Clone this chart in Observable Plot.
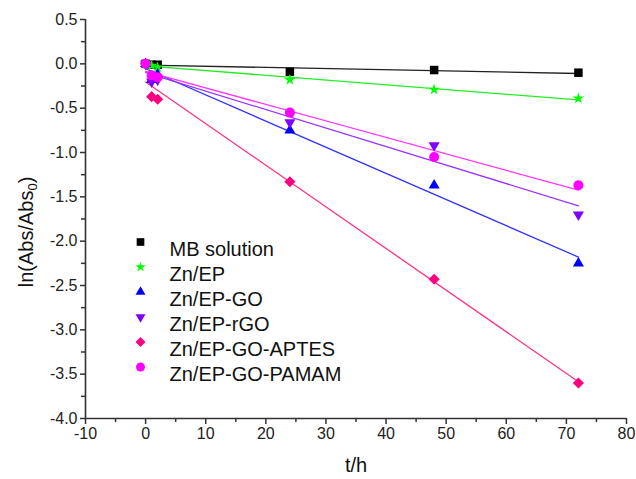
<!DOCTYPE html>
<html>
<head>
<meta charset="utf-8">
<script src="https://cdn.jsdelivr.net/npm/d3@7"></script>
<script src="https://cdn.jsdelivr.net/npm/@observablehq/plot@0.6"></script>
<style>
  html, body { margin: 0; padding: 0; background: #fff; }
  #chart { width: 636px; height: 479px; }
  svg { font-family: "Liberation Sans", Arial, sans-serif; }
</style>
</head>
<body>
<div id="chart"></div>
<script>
// ---- data ----
const times = [0, 1, 2, 24, 48, 72];
const seriesNames = ["MB solution", "Zn/EP", "Zn/EP-GO", "Zn/EP-rGO", "Zn/EP-GO-APTES", "Zn/EP-GO-PAMAM"];
const mbSolution = [0, -0.01, -0.01, -0.09, -0.07, -0.10];
const znEP = [0, -0.02, -0.04, -0.18, -0.29, -0.39];
const znEPGO = [0, -0.18, -0.12, -0.75, -1.37, -2.25];
const znEPrGO = [0, -0.20, -0.18, -0.66, -0.92, -1.70];
const znEPGOAPTES = [0, -0.37, -0.40, -1.33, -2.43, -3.60];
const znEPGOPAMAM = [0, -0.13, -0.15, -0.55, -1.05, -1.37];
const xTicks = [-10, 0, 10, 20, 30, 40, 50, 60, 70, 80];
const xMinorTicks = [-5, 5, 15, 25, 35, 45, 55, 65, 75];
const yTicks = [0.5, 0, -0.5, -1, -1.5, -2, -2.5, -3, -3.5, -4];
const yMinorTicks = [0.25, -0.25, -0.75, -1.25, -1.75, -2.25, -2.75, -3.25, -3.75];

// ---- styling per series ----
const seriesValues = [mbSolution, znEP, znEPGO, znEPrGO, znEPGOAPTES, znEPGOPAMAM];
const styles = [
  {symbol: "square",   fill: "#000000", line: "#222222", r: 4.8, rotate: 0},
  {symbol: "star",     fill: "#00ff00", line: "#22ee22", r: 3.6, rotate: 0},
  {symbol: "triangle", fill: "#0000ff", line: "#3333ff", r: 4.1, rotate: 0},
  {symbol: "triangle", fill: "#8000ff", line: "#9933ff", r: 4.1, rotate: 180},
  {symbol: "diamond2", fill: "#ff0080", line: "#ff3388", r: 5.0, rotate: 0},
  {symbol: "circle",   fill: "#ff00ff", line: "#ff33ff", r: 5.0, rotate: 0}
];

const tables = seriesValues.map((vals, i) => times.map((t, j) => ({t, v: vals[j], s: seriesNames[i]})));

const marks = [];
// axes
marks.push(Plot.ruleX([-10], {stroke: "#333", strokeWidth: 1.6}));
marks.push(Plot.ruleY([-4], {stroke: "#333", strokeWidth: 1.6}));
marks.push(Plot.axisY({ticks: yTicks, tickSize: 5, tickPadding: 3, tickFormat: d => d.toFixed(1), fontSize: 16, stroke: "#333", strokeWidth: 1.5, fill: "#222", label: null}));
marks.push(Plot.axisY({ticks: yMinorTicks, tickSize: 4, tickFormat: () => "", stroke: "#333", strokeWidth: 1.5, label: null}));
marks.push(Plot.axisX({ticks: xTicks, tickSize: 6, tickPadding: 3, tickFormat: d => String(d), fontSize: 16, stroke: "#333", strokeWidth: 1.5, fill: "#222", label: null}));
marks.push(Plot.axisX({ticks: xMinorTicks, tickSize: 4, tickFormat: () => "", stroke: "#333", strokeWidth: 1.5, label: null}));

// regression lines
tables.forEach((tab, i) => {
  marks.push(Plot.linearRegressionY(tab, {x: "t", y: "v", stroke: styles[i].line, strokeWidth: 1.3, ci: 0}));
});
// points
tables.forEach((tab, i) => {
  const st = styles[i];
  marks.push(Plot.dot(tab, {x: "t", y: "v", symbol: st.symbol, fill: st.fill, stroke: "none", r: st.r, rotate: st.rotate}));
});
// legend
seriesNames.forEach((name, i) => {
  const st = styles[i];
  marks.push(Plot.dot([name], {frameAnchor: "top-left", dx: 55, dy: 222.5 + 25 * i, symbol: st.symbol, fill: st.fill, stroke: "none", r: st.r * 0.9, rotate: st.rotate}));
  marks.push(Plot.text([name], {frameAnchor: "top-left", dx: 84, dy: 222.5 + 25 * i, text: d => d, textAnchor: "start", fontSize: 20, fill: "#111"}));
});
// x axis label
marks.push(Plot.text(["t/h"], {frameAnchor: "bottom", dy: 53, text: d => d, fontSize: 20, fill: "#111"}));

const chart = Plot.plot({
  width: 636,
  height: 479,
  marginLeft: 85,
  marginRight: 10,
  marginTop: 19,
  marginBottom: 61,
  style: {fontFamily: "'Liberation Sans', Arial, sans-serif", background: "#fff"},
  x: {domain: [-10, 80], axis: null},
  y: {domain: [-4, 0.5], axis: null},
  marks
});

// y-axis label with a real subscript
const ns = "http://www.w3.org/2000/svg";
const lab = document.createElementNS(ns, "text");
lab.setAttribute("transform", "translate(33,232) rotate(-90)");
lab.setAttribute("text-anchor", "middle");
lab.setAttribute("font-size", "20");
lab.setAttribute("fill", "#111");
lab.setAttribute("font-family", "'Liberation Sans', Arial, sans-serif");
const t1 = document.createElementNS(ns, "tspan"); t1.textContent = "ln(Abs/Abs";
const t2 = document.createElementNS(ns, "tspan"); t2.textContent = "0"; t2.setAttribute("font-size", "13"); t2.setAttribute("dy", "4");
const t3 = document.createElementNS(ns, "tspan"); t3.textContent = ")"; t3.setAttribute("dy", "-4");
lab.append(t1, t2, t3);
chart.appendChild(lab);

document.getElementById("chart").appendChild(chart);
</script>
</body>
</html>
